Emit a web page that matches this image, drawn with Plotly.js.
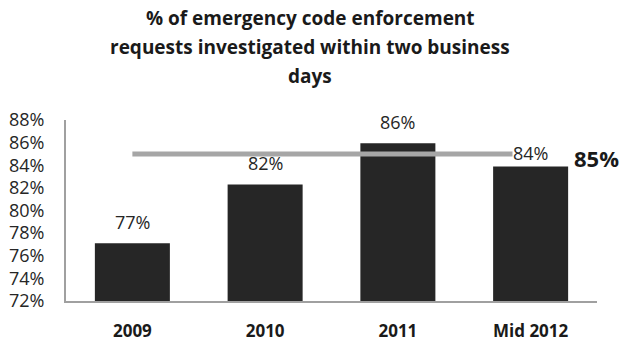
<!DOCTYPE html>
<html><head><meta charset="utf-8">
<script src="https://cdn.plot.ly/plotly-3.0.1.min.js"></script>
<style>html,body{margin:0;padding:0;background:#fff}#chart{width:620px;height:342px}</style>
</head><body><div id="chart"></div>
<script>
const categories = ['2009', '2010', '2011', 'Mid 2012'];
const pctInvestigated = [77.1, 82.3, 85.95, 83.9];
const valueLabels = ['77%', '82%', '86%', '84%'];
const targetValue = 85;
const targetLabel = '85%';
const titleLines = ['% of emergency code enforcement', 'requests investigated within two business', 'days'];
const yTickVals = [72, 74, 76, 78, 80, 82, 84, 86, 88];
const yTickText = ['72%', '74%', '76%', '78%', '80%', '82%', '84%', '86%', '88%'];

const FONT = '"Open Sans", sans-serif';

const traces = [
  {
    type: 'bar', x: categories, y: pctInvestigated, base: 0,
    marker: {color: '#262626'}, width: 0.565, hoverinfo: 'skip'
  },
  {
    type: 'scatter', mode: 'lines', x: categories,
    y: categories.map(() => targetValue),
    line: {color: '#a6a6a6', width: 5}, hoverinfo: 'skip'
  }
];

const annotations = [];
titleLines.forEach((t, i) => {
  annotations.push({
    xref: 'paper', yref: 'paper', x: 0.5 + (310 - (66 + 531 / 2)) / 531, y: 1 + (120 - (18 + 29 * i)) / 181,
    xanchor: 'center', yanchor: 'middle', showarrow: false, text: '<b>' + t + '</b>',
    font: {family: FONT, size: 19, color: '#1a1a1a'}
  });
});
categories.forEach((c, i) => {
  const last = i === categories.length - 1;
  annotations.push({
    x: i, y: pctInvestigated[i], xref: 'x', yref: 'y', showarrow: false,
    text: valueLabels[i], yanchor: 'middle', yshift: last ? 13 : 21,
    font: {family: FONT, size: 18, color: '#262626'},
    bgcolor: last ? '#ffffff' : 'rgba(0,0,0,0)', borderpad: 0
  });
});
annotations.push({
  x: categories.length - 1, y: targetValue, xref: 'x', yref: 'y', showarrow: false,
  text: '<b>' + targetLabel + '</b>', xanchor: 'center', yanchor: 'middle', xshift: 66, yshift: -4,
  font: {family: FONT, size: 22, color: '#1a1a1a'}
});

const layout = {
  width: 620, height: 342,
  margin: {l: 66, r: 23, t: 120, b: 41},
  paper_bgcolor: '#ffffff', plot_bgcolor: '#ffffff',
  showlegend: false,
  xaxis: {
    type: 'category', categoryorder: 'array', categoryarray: categories, range: [-0.5, 3.5],
    showgrid: false, zeroline: false, showline: true,
    linecolor: '#a0a0a0', linewidth: 2, ticks: '', ticklabelstandoff: 14,
    tickfont: {family: FONT, size: 17, color: '#1a1a1a', weight: 'bold'}
  },
  yaxis: {
    range: [72, 88], tickvals: yTickVals, ticktext: yTickText,
    showgrid: false, zeroline: false, showline: true, linecolor: '#a0a0a0', linewidth: 2,
    ticks: '', ticklabelstandoff: 16,
    tickfont: {family: FONT, size: 18, color: '#262626'}
  },
  annotations: annotations
};

Plotly.newPlot('chart', traces, layout, {displayModeBar: false, staticPlot: true});
</script></body></html>
